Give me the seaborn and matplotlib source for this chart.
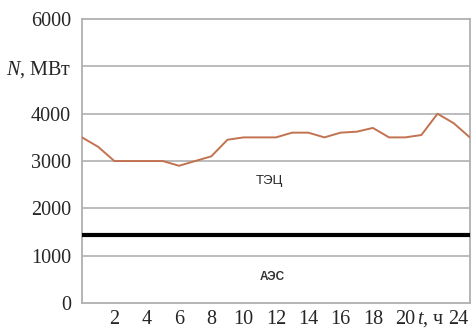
import matplotlib
matplotlib.use("Agg")
import matplotlib.pyplot as plt
import matplotlib.transforms as mtransforms
import seaborn as sns
import pandas as pd

# hourly load of the thermal plants (ТЭЦ), MW
hours = list(range(0, 25))
tec_power = [3500, 3300, 3000, 3000, 3000, 3000, 2900, 3000, 3100, 3450,
             3500, 3500, 3500, 3600, 3600, 3500, 3600, 3620, 3700, 3500,
             3500, 3550, 4000, 3800, 3500]
# constant base load of the nuclear plant (АЭС), MW
aes_power = 1430

y_ticks = [0, 1000, 2000, 3000, 4000, 5000, 6000]
y_labels = ["0", "1000", "2000", "3000", "4000", "$N$, МВт", "6000"]
x_ticks = [2, 4, 6, 8, 10, 12, 14, 16, 18, 20, 24]

sns.set_style("white")
plt.rcParams["font.family"] = ["Liberation Serif", "DejaVu Serif"]
plt.rcParams["mathtext.fontset"] = "custom"
plt.rcParams["mathtext.rm"] = "Liberation Serif"
plt.rcParams["mathtext.it"] = "Liberation Serif:italic"

df = pd.DataFrame({"hour": hours, "power": tec_power})

fig = plt.figure(figsize=(4.77, 3.29), dpi=100)
ax = fig.add_axes([0.172, 0.079, 0.813, 0.863])

grid_col = "#b0b0b0"
for v in y_ticks[1:-1]:
    ax.axhline(v, color=grid_col, lw=1.2, zorder=1)

sns.lineplot(data=df, x="hour", y="power", ax=ax, color="#c27250", lw=1.4, zorder=3)
ax.axhline(aes_power, color="black", lw=3.0, zorder=3)

ax.set_xlim(0, 24)
ax.set_ylim(0, 6000)
ax.set_yticks(y_ticks)
ax.set_yticklabels(y_labels, fontsize=14.5)
ax.set_xticks(x_ticks)
ax.set_xticklabels([str(t) for t in x_ticks], fontsize=14.5)
ax.tick_params(axis="y", length=0, pad=8)
ax.tick_params(axis="x", length=0, pad=5)
ax.set_xlabel("")
ax.set_ylabel("")

# last label sits a little left of its tick, as in the source figure
last = ax.get_xticklabels()[-1]
last.set_transform(last.get_transform() + mtransforms.ScaledTranslation(-8 / 72, 0, fig.dpi_scale_trans))

for s in ax.spines.values():
    s.set_color(grid_col)
    s.set_linewidth(1.3)

ax.annotate("$t$, ч", xy=(21.6, 0), xycoords=("data", "axes fraction"),
            xytext=(0, -5), textcoords="offset points",
            fontsize=14.5, ha="center", va="top")
ax.text(11.6, 2580, "ТЭЦ", fontsize=9.5, family=["Liberation Sans"], ha="center", va="center")
ax.text(11.8, 550, "АЭС", fontsize=8.5, family=["Liberation Sans"], fontweight="bold",
        color="#333333", ha="center", va="center")

fig.savefig("out.png", dpi=100)
